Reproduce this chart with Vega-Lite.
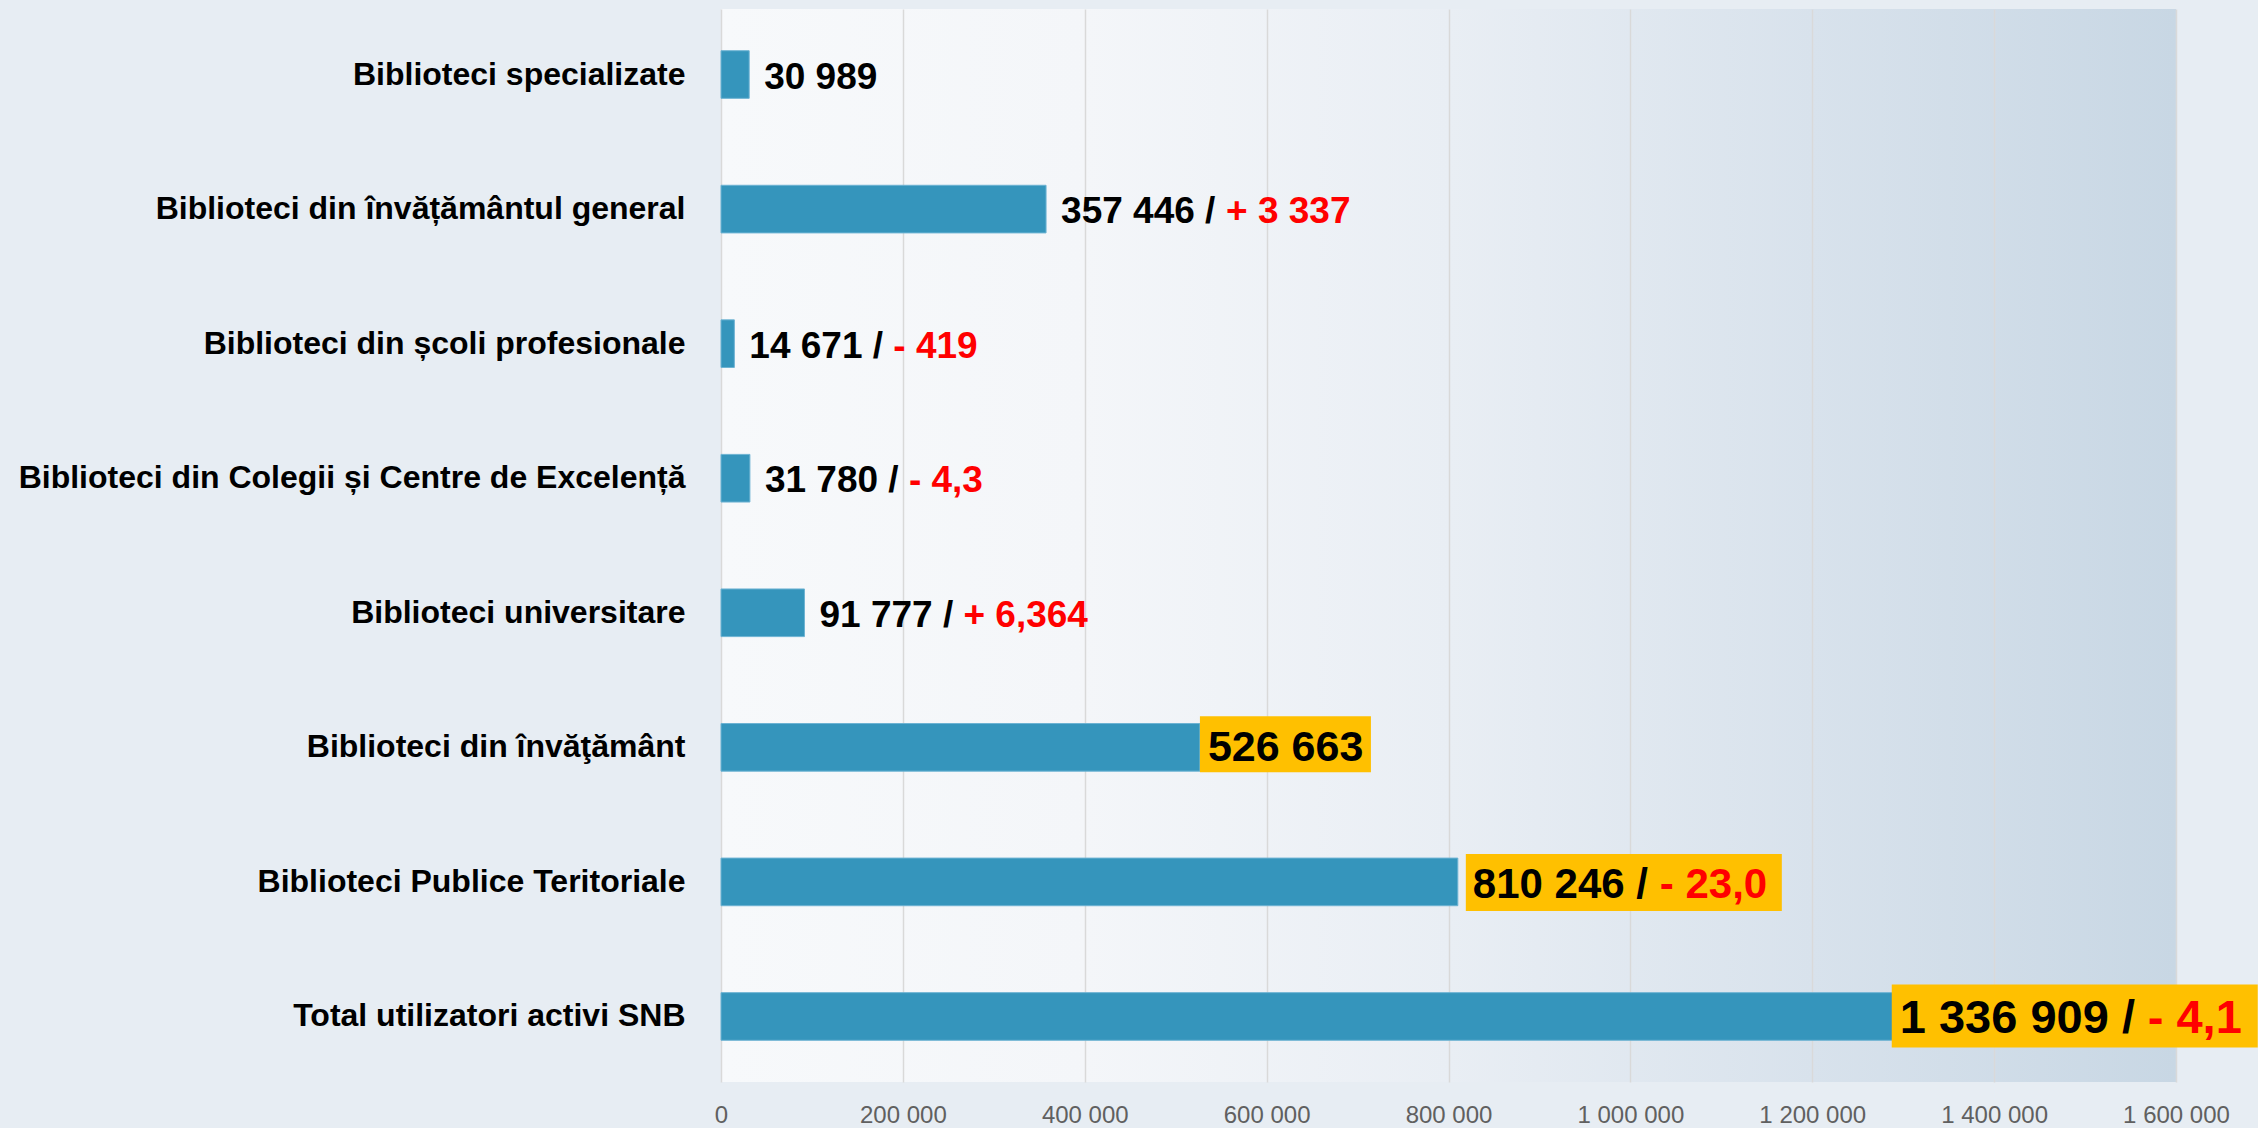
{
  "$schema": "https://vega.github.io/schema/vega-lite/v6.json",
  "width": 1455,
  "height": 1073,
  "autosize": {"type": "none"},
  "padding": {"left": 721, "top": 9, "right": 82, "bottom": 46},
  "background": "#e7edf3",
  "config": {
    "view": {
      "stroke": null,
      "fill": {
        "gradient": "linear", "x1": 0, "y1": 0, "x2": 1, "y2": 0,
        "stops": [
          {"offset": 0, "color": "#f7f9fb"},
          {"offset": 0.25, "color": "#f4f6f9"},
          {"offset": 0.5, "color": "#e9eef4"},
          {"offset": 0.75, "color": "#d8e2ec"},
          {"offset": 1, "color": "#c8d7e4"}
        ]
      }
    },
    "locale": {"number": {"decimal": ",", "thousands": " ", "grouping": [3], "currency": ["", ""]}}
  },
  "data": {
    "values": [
      {"cat": "Biblioteci specializate", "value": 30989, "black": "30 989"},
      {"cat": "Biblioteci din învățământul general", "value": 357446, "black": "357 446 /", "change": "+ 3 337"},
      {"cat": "Biblioteci din școli profesionale", "value": 14671, "black": "14 671 /", "change": "- 419"},
      {"cat": "Biblioteci din Colegii și Centre de Excelență", "value": 31780, "black": "31 780 /", "change": "- 4,3"},
      {"cat": "Biblioteci universitare", "value": 91777, "black": "91 777 /", "change": "+ 6,364"},
      {"cat": "Biblioteci din învăţământ", "value": 526663, "black": "526 663"},
      {"cat": "Biblioteci Publice Teritoriale", "value": 810246, "black": "810 246 /", "change": "- 23,0"},
      {"cat": "Total  utilizatori activi SNB", "value": 1336909, "black": "1 336 909 /", "change": "- 4,1"}
    ]
  },
  "encoding": {
    "y": {
      "field": "cat", "type": "nominal", "sort": null,
      "scale": {"paddingInner": 0.646, "paddingOuter": 0.31},
      "axis": {
        "title": null, "domain": false, "ticks": false, "grid": false,
        "labelFont": "Liberation Sans", "labelFontWeight": "bold", "labelFontSize": 32,
        "labelColor": "#000000", "labelPadding": 36, "labelLimit": 900
      }
    },
    "x": {
      "field": "value", "type": "quantitative",
      "scale": {"domain": [0, 1600000], "nice": false},
      "axis": {
        "title": null, "domain": false, "ticks": false, "grid": true,
        "gridColor": "#d9d9d9", "gridWidth": 1.5,
        "values": [0, 200000, 400000, 600000, 800000, 1000000, 1200000, 1400000, 1600000],
        "format": ",d", "labelFlush": false,
        "labelFont": "Liberation Sans", "labelFontSize": 24, "labelColor": "#606060",
        "labelPadding": 21
      }
    }
  },
  "layer": [
    {"mark": {"type": "bar", "color": "#3595bc", "stroke": "#6db3d3", "strokeWidth": 1}},
    {
      "transform": [{"filter": "datum.value === 526663"}],
      "mark": {"type": "point", "shape": "M0,-31L171,-31L171,25L0,25Z", "size": 4, "filled": true, "color": "#ffc000", "opacity": 1, "strokeWidth": 0}
    },
    {
      "transform": [{"filter": "datum.value === 810246"}],
      "mark": {"type": "point", "shape": "M8,-28L324,-28L324,29L8,29Z", "size": 4, "filled": true, "color": "#ffc000", "opacity": 1, "strokeWidth": 0}
    },
    {
      "transform": [{"filter": "datum.value === 1336909"}],
      "mark": {"type": "point", "shape": "M-45,-32L321,-32L321,31L-45,31Z", "size": 4, "filled": true, "color": "#ffc000", "opacity": 1, "strokeWidth": 0}
    },
    {
      "transform": [{"filter": "datum.value < 500000"}],
      "mark": {"type": "text", "align": "left", "baseline": "middle", "dx": 15, "dy": 3, "font": "Liberation Sans", "fontWeight": "bold", "fontSize": 37, "color": "#000000"},
      "encoding": {"text": {"field": "black"}}
    },
    {
      "transform": [{"filter": "datum.value === 357446"}],
      "mark": {"type": "text", "align": "left", "baseline": "middle", "dx": 180, "dy": 3, "font": "Liberation Sans", "fontWeight": "bold", "fontSize": 37, "color": "#ff0000"},
      "encoding": {"text": {"field": "change"}}
    },
    {
      "transform": [{"filter": "datum.value < 100000 && isValid(datum.change)"}],
      "mark": {"type": "text", "align": "left", "baseline": "middle", "dx": 159, "dy": 3, "font": "Liberation Sans", "fontWeight": "bold", "fontSize": 37, "color": "#ff0000"},
      "encoding": {"text": {"field": "change"}}
    },
    {
      "transform": [{"filter": "datum.value === 526663"}],
      "mark": {"type": "text", "align": "left", "baseline": "middle", "dx": 8, "dy": 1, "font": "Liberation Sans", "fontWeight": "bold", "fontSize": 43, "color": "#000000"},
      "encoding": {"text": {"field": "black"}}
    },
    {
      "transform": [{"filter": "datum.value === 810246"}],
      "mark": {"type": "text", "align": "left", "baseline": "middle", "dx": 15, "dy": 3, "font": "Liberation Sans", "fontWeight": "bold", "fontSize": 42, "color": "#000000"},
      "encoding": {"text": {"field": "black"}}
    },
    {
      "transform": [{"filter": "datum.value === 810246"}],
      "mark": {"type": "text", "align": "left", "baseline": "middle", "dx": 202, "dy": 3, "font": "Liberation Sans", "fontWeight": "bold", "fontSize": 42, "color": "#ff0000"},
      "encoding": {"text": {"field": "change"}}
    },
    {
      "transform": [{"filter": "datum.value === 1336909"}],
      "mark": {"type": "text", "align": "left", "baseline": "middle", "dx": -37, "dy": 3, "font": "Liberation Sans", "fontWeight": "bold", "fontSize": 47, "color": "#000000"},
      "encoding": {"text": {"field": "black"}}
    },
    {
      "transform": [{"filter": "datum.value === 1336909"}],
      "mark": {"type": "text", "align": "left", "baseline": "middle", "dx": 211, "dy": 3, "font": "Liberation Sans", "fontWeight": "bold", "fontSize": 47, "color": "#ff0000"},
      "encoding": {"text": {"field": "change"}}
    }
  ]
}
